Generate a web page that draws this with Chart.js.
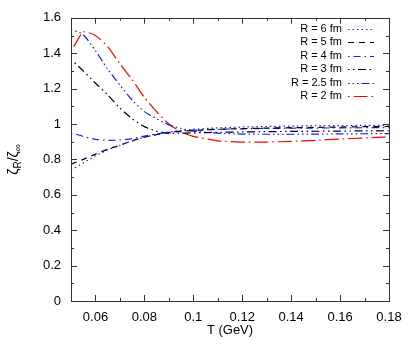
<!DOCTYPE html>
<html>
<head>
<meta charset="utf-8">
<script src="https://cdn.jsdelivr.net/npm/chart.js@4"></script>
<style>
  html, body { margin: 0; padding: 0; background: #fff; }
  #wrap { width: 415px; height: 348px; }
</style>
</head>
<body>
<div id="wrap"><canvas id="grafica" width="415" height="348"></canvas></div>
<script>
// temperaturas (GeV)
var temperaturas = [0.05, 0.055, 0.06, 0.065, 0.07, 0.075, 0.08, 0.085, 0.09, 0.095, 0.10, 0.11, 0.12, 0.13, 0.14, 0.15, 0.16, 0.17, 0.18];

// zeta_R / zeta_inf para cada radio
var r6  = [0.740, 0.780, 0.820, 0.853, 0.880, 0.905, 0.925, 0.942, 0.955, 0.963, 0.970, 0.978, 0.983, 0.986, 0.988, 0.990, 0.991, 0.992, 0.993];
var r5  = [0.773, 0.800, 0.830, 0.858, 0.880, 0.905, 0.925, 0.940, 0.950, 0.958, 0.963, 0.970, 0.974, 0.977, 0.979, 0.981, 0.983, 0.985, 0.986];
var r4  = [0.951, 0.930, 0.913, 0.908, 0.909, 0.918, 0.932, 0.944, 0.953, 0.960, 0.965, 0.970, 0.973, 0.975, 0.976, 0.977, 0.978, 0.979, 0.980];
var r3  = [1.365, 1.300, 1.230, 1.165, 1.090, 1.030, 0.985, 0.960, 0.948, 0.948, 0.950, 0.953, 0.955, 0.957, 0.958, 0.959, 0.960, 0.961, 0.962];
var r25 = [1.535, 1.505, 1.415, 1.310, 1.220, 1.135, 1.070, 1.030, 0.995, 0.975, 0.960, 0.948, 0.943, 0.942, 0.942, 0.943, 0.944, 0.945, 0.946];
var r2  = [1.410, 1.520, 1.500, 1.437, 1.340, 1.250, 1.150, 1.070, 1.000, 0.955, 0.930, 0.905, 0.898, 0.898, 0.902, 0.908, 0.915, 0.921, 0.927];

var etiquetas = ['R = 6 fm', 'R = 5 fm', 'R = 4 fm', 'R = 3 fm', 'R = 2.5 fm', 'R = 2 fm'];
var xTicks = [0.06, 0.08, 0.10, 0.12, 0.14, 0.16, 0.18];
var yTicks = [0, 0.2, 0.4, 0.6, 0.8, 1.0, 1.2, 1.4, 1.6];

function puntos(serie) {
    var p = [];
    for (var i = 0; i < temperaturas.length; i++) {
        p.push({ x: temperaturas[i], y: serie[i] });
    }
    return p;
}

function serie(label, data, color, dash) {
    return {
        label: label,
        data: puntos(data),
        borderColor: color,
        borderWidth: 1.2,
        borderDash: dash,
        pointRadius: 0,
        fill: false,
        tension: 0.2
    };
}

// marco estilo gnuplot: caja, ticks hacia adentro, titulo Y y leyenda
var marco = {
    id: 'marco',
    afterDraw: function (chart) {
        var ctx = chart.ctx;
        var a = chart.chartArea;
        var sx = chart.scales.x, sy = chart.scales.y;
        ctx.save();
        ctx.strokeStyle = '#333';
        ctx.lineWidth = 1;
        ctx.setLineDash([]);
        ctx.beginPath();
        // ticks x (mayores cada 0.02, menores cada 0.01)
        for (var k = 5; k <= 18; k++) {
            var px = Math.round(sx.getPixelForValue(k / 100)) + 0.5;
            var len = (k % 2 === 0) ? 6 : 3;
            ctx.moveTo(px, a.bottom); ctx.lineTo(px, a.bottom - len);
            ctx.moveTo(px, a.top); ctx.lineTo(px, a.top + len);
        }
        // ticks y
        for (var j = 0; j <= 16; j++) {
            var py = Math.round(sy.getPixelForValue(j / 10)) + 0.5;
            var l2 = (j % 2 === 0) ? 6 : 3;
            ctx.moveTo(a.left, py); ctx.lineTo(a.left + l2, py);
            ctx.moveTo(a.right, py); ctx.lineTo(a.right - l2, py);
        }
        ctx.stroke();
        ctx.strokeRect(Math.round(a.left) + 0.5, Math.round(a.top) + 0.5,
            Math.round(a.right - a.left), Math.round(a.bottom - a.top));

        // titulo eje y
        ctx.fillStyle = '#000';
        ctx.translate(18, (a.top + a.bottom) / 2);
        ctx.rotate(-Math.PI / 2);
        ctx.textBaseline = 'alphabetic';
        ctx.textAlign = 'left';
        var fG = '14px "Liberation Sans", Arial, sans-serif';
        var fS = '10px "Liberation Sans", Arial, sans-serif';
        var partes = [['ζ', fG, 0], ['R', fS, 3], ['/ζ', fG, 0], ['∞', fS, 3]];
        var total = 0;
        partes.forEach(function (p) { ctx.font = p[1]; total += ctx.measureText(p[0]).width; });
        var x0 = -total / 2;
        partes.forEach(function (p) {
            ctx.font = p[1];
            ctx.fillText(p[0], x0, p[2]);
            x0 += ctx.measureText(p[0]).width;
        });
        ctx.restore();

        // leyenda
        ctx.save();
        ctx.font = '11px "Liberation Sans", Arial, sans-serif';
        ctx.textAlign = 'right';
        ctx.textBaseline = 'middle';
        chart.data.datasets.forEach(function (ds, i) {
            var y = 28.5 + i * 13.5;
            ctx.fillStyle = '#000';
            ctx.fillText(ds.label, 342, y);
            ctx.strokeStyle = ds.borderColor;
            ctx.lineWidth = ds.borderWidth;
            ctx.setLineDash(ds.borderDash);
            ctx.beginPath();
            ctx.moveTo(348, Math.round(y) + 0.5);
            ctx.lineTo(374, Math.round(y) + 0.5);
            ctx.stroke();
        });
        ctx.restore();
    }
};

var chart = new Chart(document.getElementById('grafica').getContext('2d'), {
    type: 'line',
    data: {
        datasets: [
            serie(etiquetas[0], r6,  '#1a1aff', [1.5, 3]),
            serie(etiquetas[1], r5,  '#000000', [6, 5]),
            serie(etiquetas[2], r4,  '#1a1aff', [1.5, 4, 7, 4]),
            serie(etiquetas[3], r3,  '#000000', [1.5, 3.5, 1.5, 3.5, 8, 3.5]),
            serie(etiquetas[4], r25, '#1a1aff', [1.5, 3, 1.5, 3, 1.5, 3, 8, 3]),
            serie(etiquetas[5], r2,  '#ff0000', [1.5, 4, 14, 4])
        ]
    },
    options: {
        responsive: false,
        animation: false,
        layout: { padding: { left: 0, right: 26, top: 16, bottom: 0 } },
        plugins: { legend: { display: false }, tooltip: { enabled: false } },
        scales: {
            x: {
                type: 'linear',
                min: 0.05,
                max: 0.18,
                afterBuildTicks: function (s) { s.ticks = xTicks.map(function (v) { return { value: v }; }); },
                afterFit: function (s) { s.height = 47; },
                grid: { display: false, drawTicks: false },
                border: { display: false },
                ticks: {
                    color: '#000',
                    padding: 9,
                    maxRotation: 0,
                    autoSkip: false,
                    font: { family: '"Liberation Sans", Arial, sans-serif', size: 13 },
                    callback: function (v) { return String(+v.toFixed(2)); }
                },
                title: {
                    display: true,
                    text: 'T (GeV)',
                    color: '#000',
                    padding: { top: 0, bottom: 10 },
                    font: { family: '"Liberation Sans", Arial, sans-serif', size: 13 }
                }
            },
            y: {
                min: 0,
                max: 1.6,
                afterBuildTicks: function (s) { s.ticks = yTicks.map(function (v) { return { value: v }; }); },
                afterFit: function (s) { s.width = 71; },
                grid: { display: false, drawTicks: false },
                border: { display: false },
                ticks: {
                    color: '#000',
                    padding: 10,
                    autoSkip: false,
                    font: { family: '"Liberation Sans", Arial, sans-serif', size: 13 },
                    callback: function (v) { return String(+v.toFixed(2)); }
                }
            }
        }
    },
    plugins: [marco]
});
</script>
</body>
</html>
